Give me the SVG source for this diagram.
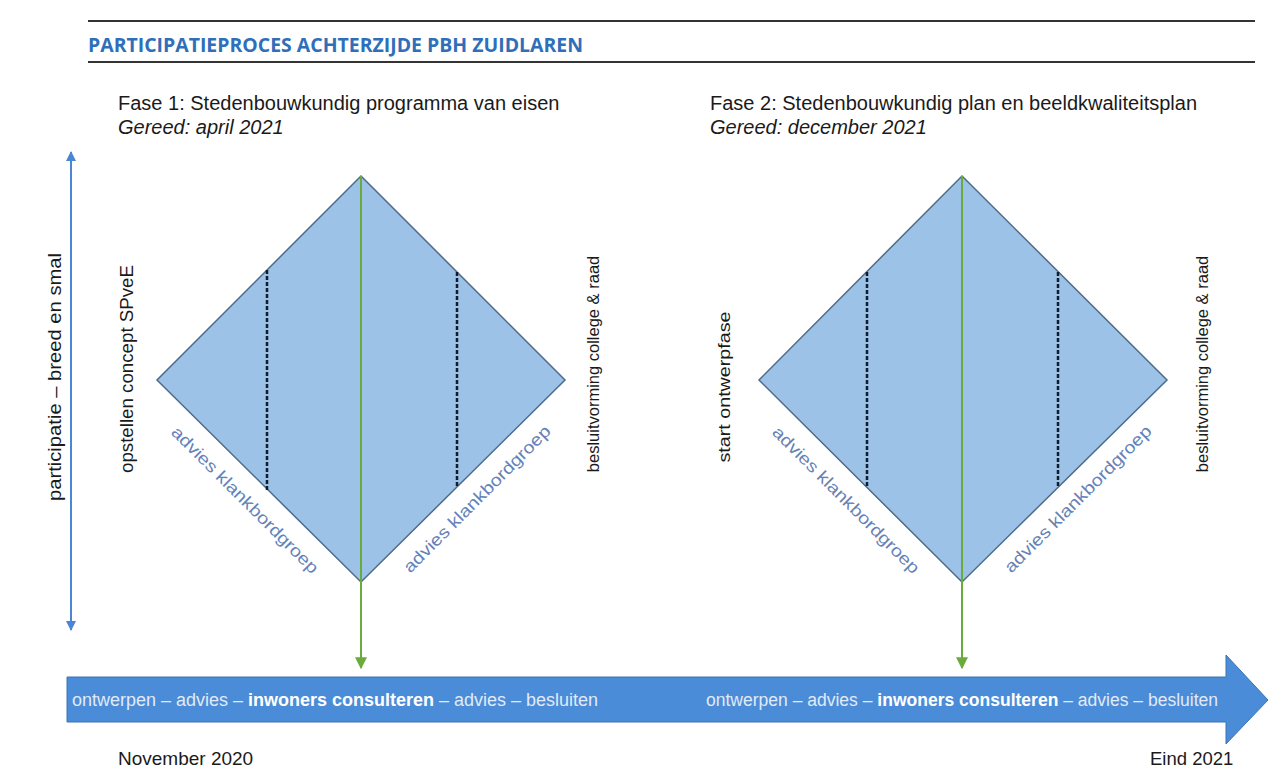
<svg xmlns="http://www.w3.org/2000/svg" width="1269" height="771" viewBox="0 0 1269 771">
<style>
.t{font-family:"Liberation Sans",Arial,sans-serif;fill:#1a1a1a}
.adv{font-family:"Liberation Sans",Arial,sans-serif;fill:#6582b8;font-size:17px}
.band{font-family:"Liberation Sans",Arial,sans-serif;fill:#e1eaf6;font-size:18px}
.dia{fill:#9dc2e8;stroke:#4d6b8a;stroke-width:1.5}
.dash{stroke:#111c2c;stroke-width:2.5;stroke-dasharray:4 2;fill:none}
.green{stroke:#6aac3c;stroke-width:2;fill:none}
.rule{stroke:#333;stroke-width:2}
</style>
<defs>
<marker id="ga" viewBox="0 0 10 10" refX="9" refY="5" markerWidth="6" markerHeight="7" markerUnits="strokeWidth" orient="auto"><path d="M0,0 L10,5 L0,10 z" fill="#6aac3c"/></marker>
<marker id="ba" viewBox="0 0 10 10" refX="9" refY="5" markerWidth="5" markerHeight="5" markerUnits="strokeWidth" orient="auto-start-reverse"><path d="M0,0 L10,5 L0,10 z" fill="#4a86d4"/></marker>
</defs>
<rect width="1269" height="771" fill="#ffffff"/>
<g id="header">
<line class="rule" x1="88" y1="21" x2="1255" y2="21"/>
<line class="rule" x1="88" y1="62" x2="1255" y2="62"/>
<text x="88" y="52" font-family="'Open Sans','Liberation Sans',sans-serif" font-weight="bold" font-size="20" fill="#2f6fba" textLength="495" lengthAdjust="spacingAndGlyphs">PARTICIPATIEPROCES ACHTERZIJDE PBH ZUIDLAREN</text>
</g>
<g id="fase1-title">
<text class="t" x="118" y="110" font-size="20">Fase 1: Stedenbouwkundig programma van eisen</text>
<text class="t" x="118" y="134" font-size="20" font-style="italic">Gereed: april 2021</text>
</g>
<g id="fase2-title">
<text class="t" x="710" y="110" font-size="20">Fase 2: Stedenbouwkundig plan en beeldkwaliteitsplan</text>
<text class="t" x="710" y="134" font-size="20" font-style="italic">Gereed: december 2021</text>
</g>
<g id="timeline">
<polygon points="67,677 1226,677 1226,655 1268,700 1226,744 1226,722 67,722" fill="#4b8cd8" stroke="#3b72b5" stroke-width="1"/>
<text class="band" x="72" y="706" textLength="526" lengthAdjust="spacingAndGlyphs">ontwerpen – advies – <tspan font-weight="bold" fill="#ffffff">inwoners consulteren</tspan> – advies – besluiten</text>
<text class="band" x="706" y="706" textLength="512" lengthAdjust="spacingAndGlyphs">ontwerpen – advies – <tspan font-weight="bold" fill="#ffffff">inwoners consulteren</tspan> – advies – besluiten</text>
<text class="t" x="118" y="765" font-size="19">November 2020</text>
<text class="t" x="1150" y="765" font-size="18.5">Eind 2021</text>
</g>
<g id="axis">
<line x1="71" y1="152" x2="71" y2="630" stroke="#4a86d4" stroke-width="2" marker-start="url(#ba)" marker-end="url(#ba)"/>
<text class="t" font-size="18" text-anchor="middle" textLength="248" lengthAdjust="spacingAndGlyphs" transform="translate(61,377) rotate(-90)">participatie – breed en smal</text>
</g>
<g id="diamond1">
<polygon class="dia" points="361,176 565,380 361,582 157,380"/>
<line class="dash" x1="267" y1="270" x2="267" y2="490"/>
<line class="dash" x1="457" y1="272" x2="457" y2="487"/>
<text class="t" font-size="18" text-anchor="middle" textLength="208" lengthAdjust="spacingAndGlyphs" transform="translate(133,369) rotate(-90)">opstellen concept SPveE</text>
<text class="t" font-size="16.5" text-anchor="middle" transform="translate(599,364) rotate(-90)">besluitvorming college &amp; raad</text>
<text class="adv" text-anchor="middle" textLength="200" lengthAdjust="spacingAndGlyphs" transform="translate(241,504) rotate(45)">advies klankbordgroep</text>
<text class="adv" text-anchor="middle" textLength="200" lengthAdjust="spacingAndGlyphs" transform="translate(481,503) rotate(-45)">advies klankbordgroep</text>
</g>
<g id="diamond2">
<polygon class="dia" points="962,176 1167,380 962,582 759,380"/>
<line class="dash" x1="867" y1="272" x2="867" y2="488"/>
<line class="dash" x1="1058" y1="272" x2="1058" y2="487"/>
<text class="t" font-size="17" text-anchor="middle" textLength="151" lengthAdjust="spacingAndGlyphs" transform="translate(730,387) rotate(-90)">start ontwerpfase</text>
<text class="t" font-size="16.5" text-anchor="middle" transform="translate(1208,364) rotate(-90)">besluitvorming college &amp; raad</text>
<text class="adv" text-anchor="middle" textLength="200" lengthAdjust="spacingAndGlyphs" transform="translate(842,504) rotate(45)">advies klankbordgroep</text>
<text class="adv" text-anchor="middle" textLength="200" lengthAdjust="spacingAndGlyphs" transform="translate(1082,503) rotate(-45)">advies klankbordgroep</text>
</g>
<g id="connectors">
<line class="green" x1="361" y1="176" x2="361" y2="668" marker-end="url(#ga)"/>
<line class="green" x1="962" y1="176" x2="962" y2="668" marker-end="url(#ga)"/>
</g>
</svg>
